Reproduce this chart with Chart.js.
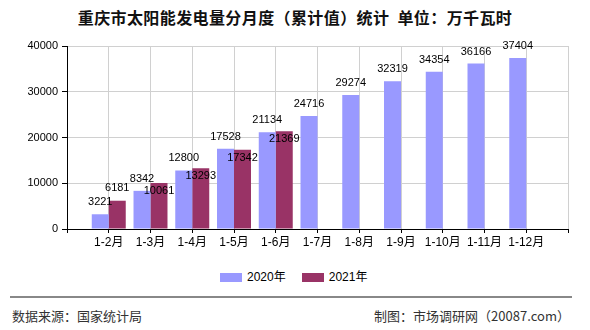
<!DOCTYPE html>
<html lang="zh">
<head>
<meta charset="UTF-8">
<title>重庆市太阳能发电量分月度（累计值）统计</title>
<style>
  body { margin: 0; background: #fff; }
  #wrap { position: relative; width: 590px; height: 330px; overflow: hidden; font-family: "Noto Sans CJK SC", sans-serif; }
  #title { position: absolute; top: 6px; left: 0; width: 590px; text-align: center; font-size: 16px; font-weight: bold; line-height: 22px; color: #111; letter-spacing: 0.4px; }
  #chartBox { position: absolute; top: 0; left: 0; width: 590px; height: 252px; }
  #legend { position: absolute; top: 269px; left: 220px; display: flex; align-items: center; font: 12px "Liberation Sans", "Noto Sans CJK SC", sans-serif; color: #000; line-height: 16px; }
  #legend span.box { display: inline-block; width: 22px; height: 9px; margin-right: 5px; }
  #legend span.item { display: flex; align-items: center; margin-right: 16px; }
  #rule { position: absolute; top: 296px; left: 10px; width: 562px; border-top: 2px solid #888; }
  .foot { position: absolute; top: 307px; font-size: 13px; line-height: 18px; color: #333; }
</style>
</head>
<body>
<div id="wrap">
  <div id="title">重庆市太阳能发电量分月度（累计值）统计&nbsp;&nbsp;单位：万千瓦时</div>
  <div id="chartBox"><canvas id="myChart"></canvas></div>
  <div id="legend"></div>
  <div id="rule"></div>
  <div class="foot" style="left:12px">数据来源：国家统计局</div>
  <div class="foot" style="right:20px">制图：市场调研网（20087.com）</div>
</div>

<script src="https://cdn.jsdelivr.net/npm/chart.js"></script>
<script>
  // months and cumulative output, 万千瓦时
  const months = ['1-2月', '1-3月', '1-4月', '1-5月', '1-6月', '1-7月', '1-8月', '1-9月', '1-10月', '1-11月', '1-12月'];
  const values2020 = [3221, 8342, 12800, 17528, 21134, 24716, 29274, 32319, 34354, 36166, 37404];
  const values2021 = [6181, 10061, 13293, 17342, 21369];
  const yTicks = [0, 10000, 20000, 30000, 40000];

  // empty slot at each end so the bars sit on the grid lines
  function padded(arr) {
    const out = [null];
    for (let i = 0; i < months.length; i++) out.push(i < arr.length ? arr[i] : null);
    out.push(null);
    return out;
  }

  const font = '"Liberation Sans", "Noto Sans CJK SC", sans-serif';

  const valueLabels = {
    id: 'valueLabels',
    afterDatasetsDraw(chart) {
      const ctx = chart.ctx;
      const a = chart.getDatasetMeta(0), b = chart.getDatasetMeta(1);
      ctx.save();
      ctx.font = '11px ' + font;
      ctx.fillStyle = '#000';
      ctx.textAlign = 'center';
      ctx.textBaseline = 'middle';
      a.data.forEach((bar, i) => {
        const v = chart.data.datasets[0].data[i];
        if (v == null) return;
        ctx.fillText(v, bar.x, bar.y - 12);
      });
      b.data.forEach((bar, i) => {
        const v = chart.data.datasets[1].data[i];
        if (v == null) return;
        // push the label into the bar when it would hit the 2020 one
        const near = a.data[i] && Math.abs(a.data[i].y - bar.y) < 13;
        ctx.fillText(v, bar.x, near ? bar.y + 8 : bar.y - 13);
      });
      ctx.restore();
    }
  };

  const chart = new Chart(document.getElementById('myChart'), {
    type: 'bar',
    data: {
      labels: [''].concat(months, ['']),
      datasets: [
        { label: '2020年', data: padded(values2020), backgroundColor: '#9999FF' },
        { label: '2021年', data: padded(values2021), backgroundColor: '#993366' }
      ]
    },
    options: {
      responsive: true,
      maintainAspectRatio: false,
      animation: false,
      layout: { padding: { top: 46, right: 22, bottom: 0, left: 0 } },
      categoryPercentage: 0.814,
      barPercentage: 1,
      plugins: { legend: { display: false }, tooltip: { enabled: false } },
      scales: {
        x: {
          offset: false,
          afterFit(s) { s.height = 23; },
          grid: { color: '#d0d0d0', tickColor: '#000', tickLength: 4, offset: false },
          border: { color: '#000' },
          ticks: { color: '#000', font: { size: 12, family: font }, padding: 2, maxRotation: 0, autoSkip: false }
        },
        y: {
          min: 0,
          max: 40000,
          afterFit(s) { s.width = 67; },
          afterBuildTicks(s) { s.ticks = yTicks.map(v => ({ value: v })); },
          grid: { color: '#d0d0d0', tickColor: '#000', tickLength: 5 },
          border: { color: '#000' },
          ticks: { color: '#000', font: { size: 11, family: font }, padding: 4, callback: v => String(v) }
        }
      }
    },
    plugins: [valueLabels]
  });

  // legend built from the datasets
  const legend = document.getElementById('legend');
  chart.data.datasets.forEach(ds => {
    const item = document.createElement('span');
    item.className = 'item';
    const box = document.createElement('span');
    box.className = 'box';
    box.style.background = ds.backgroundColor;
    item.appendChild(box);
    item.appendChild(document.createTextNode(ds.label));
    legend.appendChild(item);
  });
</script>
</body>
</html>
